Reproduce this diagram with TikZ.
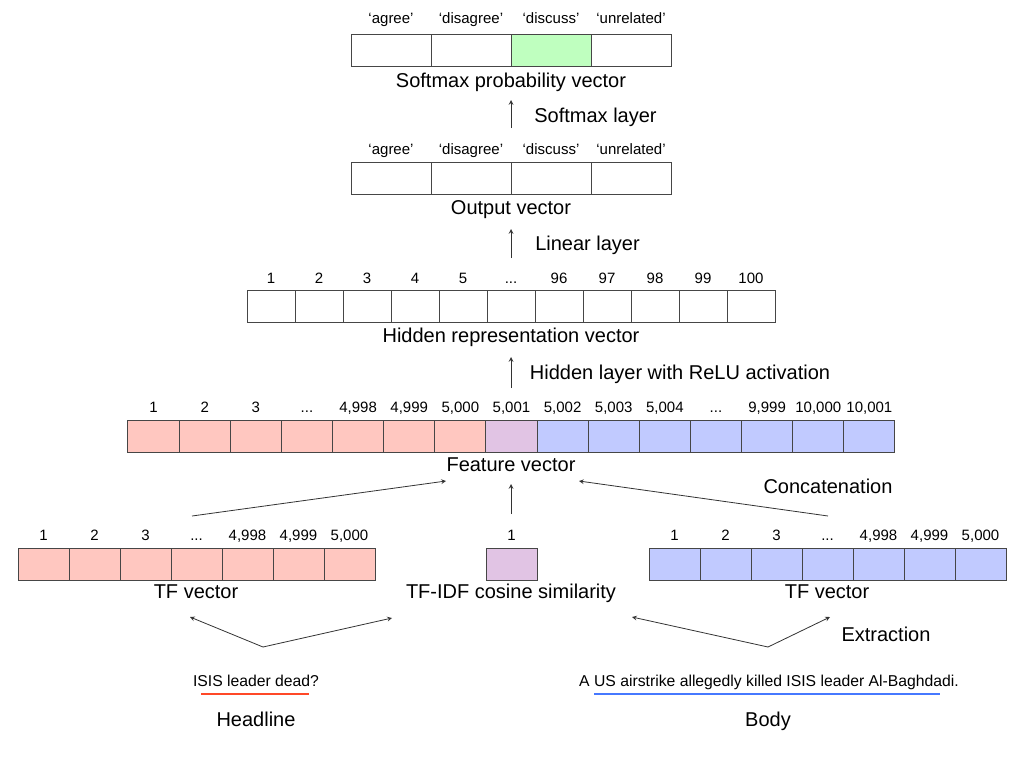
\documentclass[tikz,border=0pt]{standalone}
\usepackage{fontspec}
\setmainfont{Liberation Sans}
\usepackage{xcolor}
\usetikzlibrary{arrows, positioning}

\definecolor{hlred}{RGB}{255,199,192}
\definecolor{simpurple}{RGB}{225,196,228}
\definecolor{bdblue}{RGB}{193,202,255}
\definecolor{predgreen}{RGB}{191,255,191}
\definecolor{cellline}{RGB}{70,70,70}
\definecolor{lineRed}{RGB}{255,72,40}
\definecolor{lineBlue}{RGB}{70,120,255}
\newcommand{\celldots}{...}

\begin{document}
\begin{tikzpicture}[x=0.75pt, y=-0.75pt]
\tikzstyle{cell} = [rectangle, draw=cellline, line width=0.75pt, minimum height=24pt, inner sep=0pt]
\tikzstyle{idx} = [inner sep=0pt, anchor=base, font=\fontsize{11.25}{13}\selectfont]
\tikzstyle{title} = [inner sep=0pt, anchor=base, font=\fontsize{15}{18}\selectfont]
\tikzstyle{sentence} = [inner sep=0pt, anchor=base, font=\fontsize{11.8}{14}\selectfont]
\tikzstyle{arrow} = [->, >=stealth, line width=0.6pt, black!80]
\tikzstyle{uline} = [line width=1pt]

\useasboundingbox (0,0) rectangle (1024,768);

% softmax probability vector
\foreach \i/\t/\c in {1/agree/white, 2/disagree/white, 3/discuss/predgreen, 4/unrelated/white} {
  \node (smx\i) [cell, minimum width=60pt, fill=\c] at (311+80*\i, 50) {};
  \node (smxl\i) [idx] at (311+80*\i, 23.5) {`\t'};
}
\node (smxt) [title] at (511, 87) {Softmax probability vector};

% output vector
\foreach \i/\t in {1/agree, 2/disagree, 3/discuss, 4/unrelated} {
  \node (out\i) [cell, minimum width=60pt] at (311+80*\i, 178.5) {};
  \node (outl\i) [idx] at (311+80*\i, 154.5) {`\t'};
}
\node (outt) [title] at (511, 214) {Output vector};

% hidden representation vector
\foreach \i/\t in {1/1, 2/2, 3/3, 4/4, 5/5, 6/\celldots, 7/96, 8/97, 9/98, 10/99, 11/100} {
  \node (hid\i) [cell, minimum width=36pt] at (223+48*\i, 306) {};
  \node (hidl\i) [idx] at (223+48*\i, 283.5) {\t};
}
\node (hidt) [title] at (511, 342) {Hidden representation vector};

% feature vector
\foreach \i/\t/\c in {1/1/hlred, 2/2/hlred, 3/3/hlred, 4/\celldots/hlred, 5/{4,998}/hlred, 6/{4,999}/hlred, 7/{5,000}/hlred,
    8/{5,001}/simpurple,
    9/{5,002}/bdblue, 10/{5,003}/bdblue, 11/{5,004}/bdblue, 12/\celldots/bdblue, 13/{9,999}/bdblue, 14/{10,000}/bdblue, 15/{10,001}/bdblue} {
  \node (fea\i) [cell, minimum width=38.35pt, fill=\c] at (102.43+51.13*\i, 436) {};
  \node (feal\i) [idx] at (102.43+51.13*\i, 412.5) {\t};
}
\node (feat) [title] at (511, 471) {Feature vector};

% headline TF vector, similarity, body TF vector
\foreach \i/\t in {1/1, 2/2, 3/3, 4/\celldots, 5/{4,998}, 6/{4,999}, 7/{5,000}} {
  \node (htf\i) [cell, minimum width=38.25pt, fill=hlred] at (-7.5+51*\i, 564) {};
  \node (htfl\i) [idx] at (-7.5+51*\i, 540.5) {\t};
  \node (btf\i) [cell, minimum width=38.25pt, fill=bdblue] at (623.5+51*\i, 564) {};
  \node (btfl\i) [idx] at (623.5+51*\i, 540.5) {\t};
}
\node (sim) [cell, minimum width=38.25pt, fill=simpurple] at (511.5, 564) {};
\node (siml) [idx] at (511.5, 540.5) {1};
\node (htft) [title] at (196, 598) {TF vector};
\node (simt) [title] at (511, 598) {TF-IDF cosine similarity};
\node (btft) [title] at (827, 598) {TF vector};

% texts
\node (hl) [sentence] at (256, 686) {ISIS leader dead?};
\node (bd) [sentence] at (769, 686) {A US airstrike allegedly killed ISIS leader Al-Baghdadi.};
\node (hlt) [title] at (256, 726) {Headline};
\node (bdt) [title] at (768, 726) {Body};
\draw [uline, lineRed] (201,694) -- (309,694);
\draw [uline, lineBlue] (594,694) -- (940,694);

% layer labels
\node (smxlay) [title] at (595.5, 122) {Softmax layer};
\node (linlay) [title] at (587.5, 250) {Linear layer};
\node (hidlay) [title] at (680, 379) {Hidden layer with ReLU activation};
\node (catlay) [title] at (828, 493) {Concatenation};
\node (extlay) [title] at (886, 641) {Extraction};

% arrow ends
\coordinate (smxin) at (511,128);
\coordinate (smxout) at (511,100);
\coordinate (outin) at (511,258);
\coordinate (outout) at (511,229);
\coordinate (hidin) at (511,388);
\coordinate (hidout) at (511,357);
\coordinate (feain) at (511,514);
\coordinate (feaout) at (511,484);
\coordinate (hcat) at (192,516);
\coordinate (hcatout) at (446,481);
\coordinate (bcat) at (828,516);
\coordinate (bcatout) at (579,481);
\coordinate (hlup) at (263,647);
\coordinate (bdup) at (768,647);
\coordinate (htfin) at (190,617);
\coordinate (simhin) at (392,618);
\coordinate (simbin) at (632,617);
\coordinate (btfin) at (830,617);

\draw [arrow] (smxin) -- (smxout);
\draw [arrow] (outin) -- (outout);
\draw [arrow] (hidin) -- (hidout);
\draw [arrow] (feain) -- (feaout);
\draw [arrow] (hcat) -- (hcatout);
\draw [arrow] (bcat) -- (bcatout);
\draw [arrow] (hlup) -- (htfin);
\draw [arrow] (hlup) -- (simhin);
\draw [arrow] (bdup) -- (simbin);
\draw [arrow] (bdup) -- (btfin);

\end{tikzpicture}
\end{document}
